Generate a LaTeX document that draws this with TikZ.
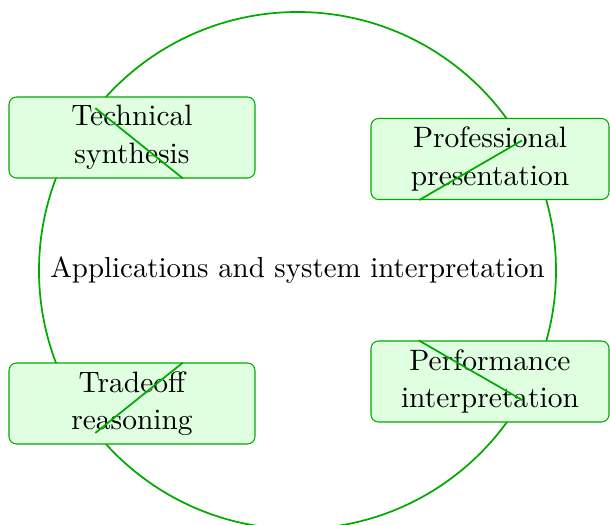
\documentclass[tikz,border=0pt]{standalone}
\begin{document}
\begin{tikzpicture}[x=0.346pt,y=-0.346pt,
  linegreen/.style={draw={rgb,255:red,0;green,170;blue,0}},
  hub/.style={circle,linegreen,line width=0.6pt,minimum size=517*0.346pt,inner sep=0pt},
  leaf/.style={rectangle,rounded corners=2.6pt,linegreen,line width=0.35pt,
    fill={rgb,255:red,224;green,255;blue,224},align=center,inner sep=0pt,
    minimum height=81*0.346pt,font=\fontsize{10.2}{13}\selectfont},
  link/.style={linegreen,line width=0.6pt}]
\useasboundingbox (0,0) rectangle (610,525);
\node[hub] (c) at (297.5,270.5) {Applications and system interpretation};
\node[leaf,minimum width=246*0.346pt] (t) at (132,137.5) {Technical\\synthesis};
\node[leaf,minimum width=238*0.346pt] (p) at (490,159) {Professional\\presentation};
\node[leaf,minimum width=246*0.346pt] (r) at (132,403.5) {Tradeoff\\reasoning};
\node[leaf,minimum width=238*0.346pt] (f) at (490,381.5) {Performance\\interpretation};
\draw[link] (c) -- (t);
\draw[link] (c) -- (p);
\draw[link] (c) -- (r);
\draw[link] (c) -- (f);
\end{tikzpicture}
\end{document}
